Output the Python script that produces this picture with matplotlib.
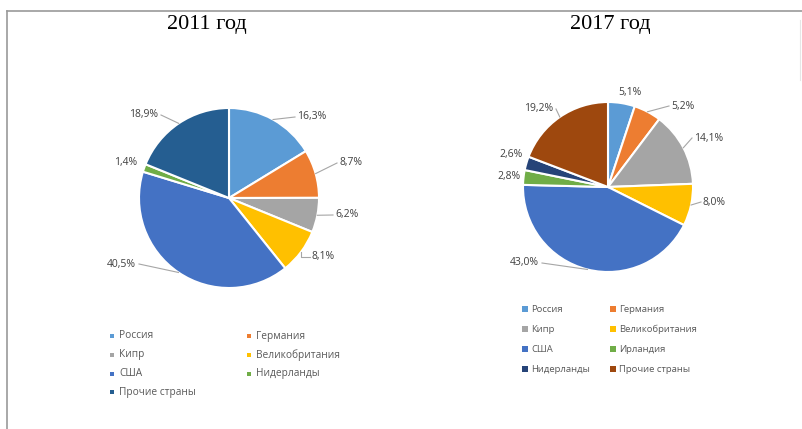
import numpy as np
import matplotlib
matplotlib.use("Agg")
import matplotlib.pyplot as plt
from matplotlib.lines import Line2D

# ---- data ----
countries_2011 = ["Россия", "Германия", "Кипр", "Великобритания", "США",
                  "Нидерланды", "Прочие страны"]
shares_2011 = [16.3, 8.7, 6.2, 8.1, 40.5, 1.4, 18.9]
colors_2011 = ["#5B9BD5", "#ED7D31", "#A5A5A5", "#FFC000", "#4472C4",
               "#70AD47", "#255E91"]

countries_2017 = ["Россия", "Германия", "Кипр", "Великобритания", "США",
                  "Ирландия", "Нидерланды", "Прочие страны"]
shares_2017 = [5.1, 5.2, 14.1, 8.0, 43.0, 2.8, 2.6, 19.2]
colors_2017 = ["#5B9BD5", "#ED7D31", "#A5A5A5", "#FFC000", "#4472C4",
               "#70AD47", "#264478", "#9E480E"]

titles = ["2011 год", "2017 год"]

W, H = 803, 429
FONT = ["Open Sans", "DejaVu Sans"]
LABEL_C = "#404040"
LEGEND_C = "#595959"
LEADER_C = "#A6A6A6"

fig = plt.figure(figsize=(W / 100, H / 100), dpi=100)
ax = fig.add_axes([0, 0, 1, 1])


def Y(y):
    return H - y


def fmt(v):
    return f"{v:.1f}%".replace(".", ",")


def draw_pie(values, colors, center, radius, label_pos, leaders):
    wedges, _ = ax.pie(values, colors=colors, center=(center[0], Y(center[1])),
                       radius=radius, startangle=90, counterclock=False,
                       wedgeprops=dict(edgecolor="white", linewidth=1.5))
    for w, v, (lx, ly, ha), lead in zip(wedges, values, label_pos, leaders):
        ax.text(lx, Y(ly), fmt(v), ha=ha, va="center", fontsize=7.5,
                color=LABEL_C, family=FONT)
        if lead is None:
            continue
        mid = np.deg2rad((w.theta1 + w.theta2) / 2)
        ex = center[0] + radius * np.cos(mid)
        ey = Y(center[1]) + radius * np.sin(mid)
        if lead == "elbow":
            xs, ys = [ex, ex, lx - 2], [ey, Y(ly), Y(ly)]
        else:
            xs, ys = [ex, lx + lead], [ey, Y(ly)]
        ax.add_line(Line2D(xs, ys, color=LEADER_C, lw=0.8))


# 2011 pie: label (x, y, ha) and leader style (None = no leader)
labels_2011 = [(297, 117, "left"), (340, 163, "left"), (335, 215, "left"),
               (312, 257, "left"), (136, 264, "right"), (137, 163, "right"),
               (158, 115, "right")]
leaders_2011 = [-2, -3, -2, "elbow", 3, None, 3]
draw_pie(shares_2011, colors_2011, (229, 198), 90, labels_2011, leaders_2011)

labels_2017 = [(618, 93, "left"), (671, 106, "left"), (694, 138, "left"),
               (703, 202, "left"), (539, 263, "right"), (521, 176, "right"),
               (523, 155, "right"), (553, 109, "right")]
leaders_2017 = [None, -2, -2, -2, 3, None, None, 3]
draw_pie(shares_2017, colors_2017, (608, 187), 85, labels_2017, leaders_2017)

# titles
for x, t in zip([207, 610], titles):
    ax.text(x, Y(25), t, ha="center", va="center", fontsize=16,
            family=["Liberation Serif", "DejaVu Serif"], color="black")


# legends
def draw_legend(names, colors, x0, x1, y0, dy, fs, mark, gap):
    for i, (n, c) in enumerate(zip(names, colors)):
        col, row = i % 2, i // 2
        x = x0 if col == 0 else x1
        y = y0 + row * dy
        ax.scatter([x], [Y(y)], marker="s", s=mark, color=c, linewidths=0)
        ax.text(x + gap, Y(y), n, ha="left", va="center", fontsize=fs,
                color=LEGEND_C, family=FONT)


draw_legend(countries_2011, colors_2011, 112, 249, 336, 18.8, 7.3, 10, 7.5)
draw_legend(countries_2017, colors_2017, 525, 613, 309, 20, 6.8, 16, 6)

# frame
ax.add_line(Line2D([7, W], [Y(11), Y(11)], color="#9A9A9A", lw=1.2))
ax.add_line(Line2D([7.5, 7.5], [Y(11), 0], color="#9A9A9A", lw=1.2))
ax.add_line(Line2D([800, 800], [Y(20), Y(80)], color="#E6E6E6", lw=0.8))

ax.set_xlim(0, W)
ax.set_ylim(0, H)
ax.set_aspect("auto")
ax.axis("off")

fig.savefig("out.png", dpi=100, facecolor="white")
